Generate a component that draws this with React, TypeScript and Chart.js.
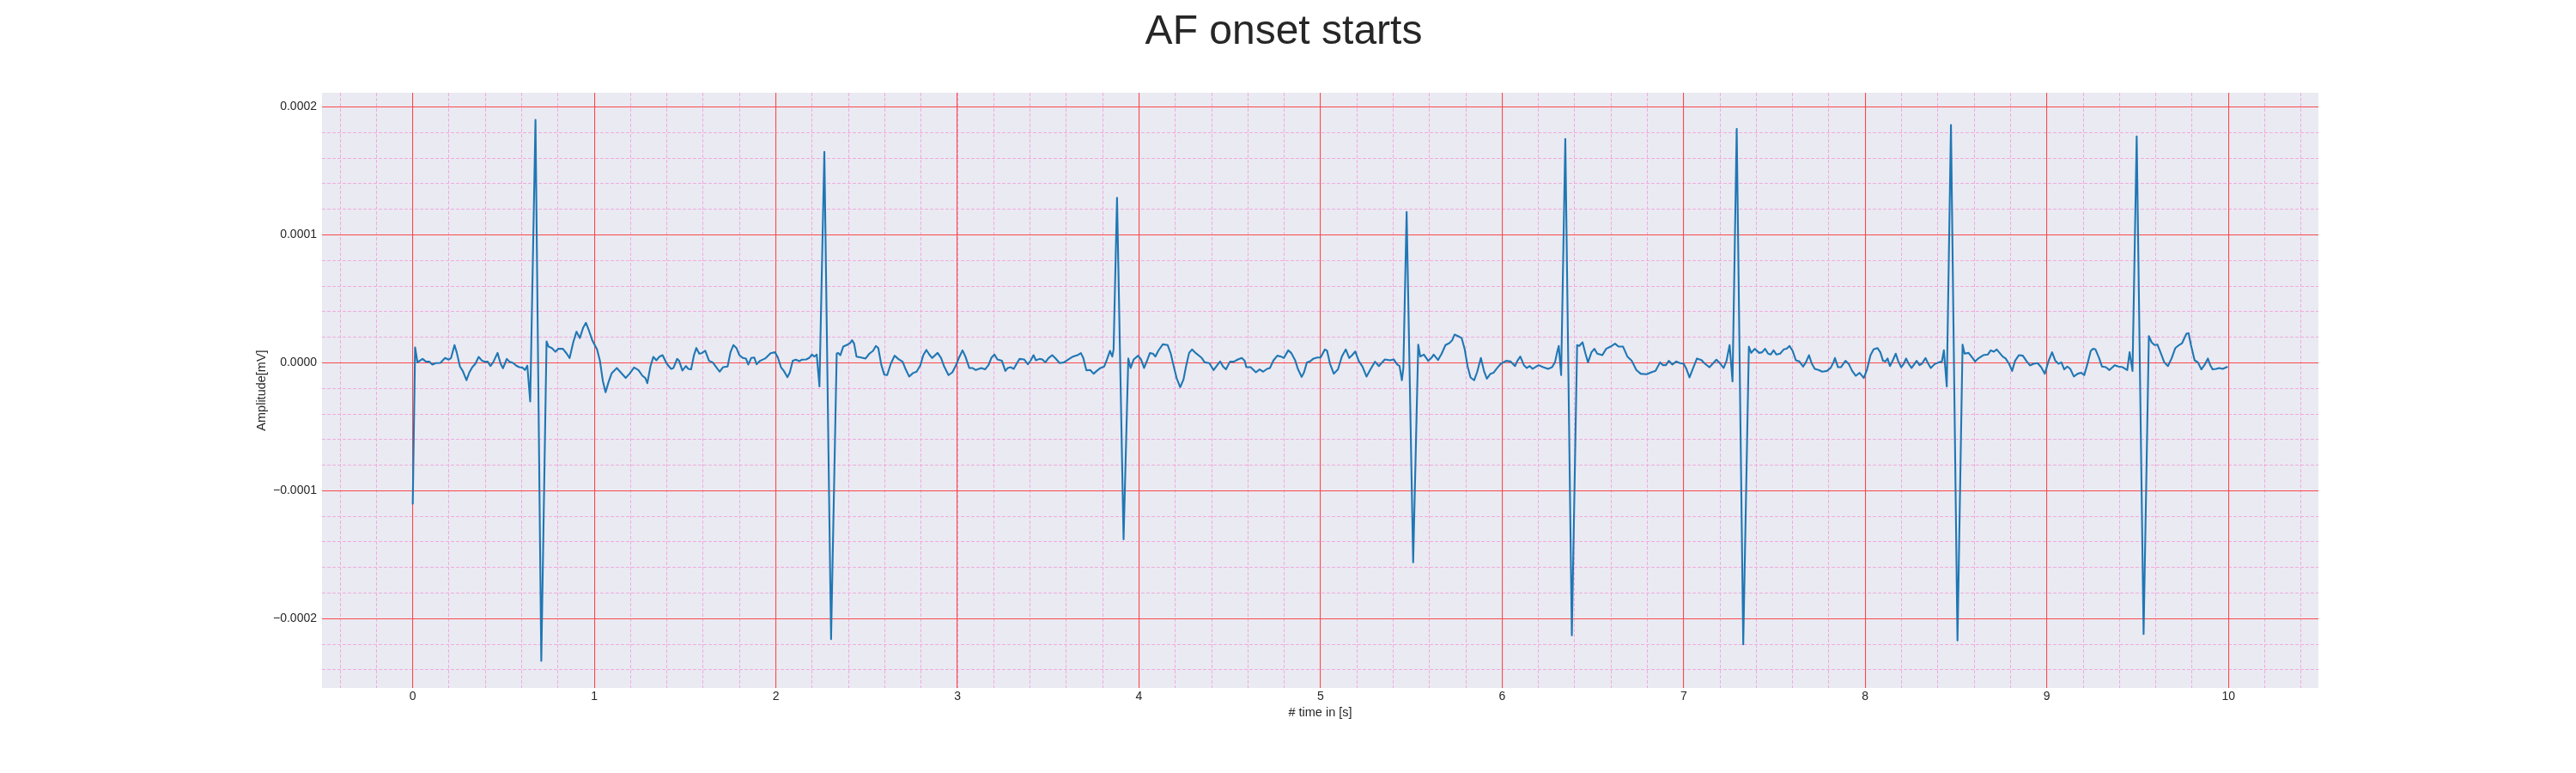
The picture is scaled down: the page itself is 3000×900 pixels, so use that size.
import React, { useEffect, useRef } from "react";
import { Chart, registerables } from "chart.js";

Chart.register(...registerables);

// ---- Data ----
const chartTitle = "AF onset starts";
const xAxisLabel = "# time in [s]";
const yAxisLabel = "Amplitude[mV]";

const xTickValues = [0, 1, 2, 3, 4, 5, 6, 7, 8, 9, 10];
const yTickValues = [-0.0002, -0.0001, 0, 0.0001, 0.0002];

const timeS = [
  0.000, 0.013, 0.026, 0.038, 0.054, 0.072, 0.092, 0.108, 0.127, 0.152,
  0.178, 0.198, 0.211, 0.230, 0.242, 0.260, 0.276, 0.296, 0.312, 0.328,
  0.345, 0.363, 0.382, 0.399, 0.413, 0.428, 0.443, 0.467, 0.484, 0.497,
  0.518, 0.533, 0.552, 0.570, 0.587, 0.603, 0.618, 0.631, 0.647, 0.676,
  0.708, 0.737, 0.748, 0.766, 0.786, 0.802, 0.827, 0.848, 0.864, 0.884,
  0.902, 0.920, 0.938, 0.954, 0.971, 0.990, 1.015, 1.031, 1.047, 1.062,
  1.078, 1.096, 1.124, 1.145, 1.173, 1.194, 1.219, 1.243, 1.265, 1.281,
  1.292, 1.309, 1.325, 1.342, 1.359, 1.376, 1.399, 1.423, 1.436, 1.456,
  1.467, 1.485, 1.505, 1.518, 1.533, 1.549, 1.562, 1.578, 1.592, 1.611,
  1.632, 1.652, 1.672, 1.690, 1.709, 1.734, 1.750, 1.766, 1.783, 1.799,
  1.819, 1.835, 1.848, 1.864, 1.881, 1.894, 1.913, 1.941, 1.971, 1.995,
  2.011, 2.028, 2.044, 2.064, 2.077, 2.093, 2.110, 2.129, 2.142, 2.167,
  2.183, 2.199, 2.212, 2.225, 2.240, 2.267, 2.304, 2.335, 2.343, 2.355,
  2.371, 2.390, 2.408, 2.420, 2.431, 2.444, 2.470, 2.494, 2.515, 2.535,
  2.551, 2.564, 2.581, 2.597, 2.613, 2.633, 2.654, 2.674, 2.698, 2.715,
  2.734, 2.755, 2.775, 2.796, 2.812, 2.829, 2.845, 2.861, 2.891, 2.910,
  2.927, 2.951, 2.972, 2.992, 3.008, 3.028, 3.044, 3.065, 3.082, 3.101,
  3.131, 3.152, 3.171, 3.188, 3.204, 3.220, 3.245, 3.264, 3.277, 3.294,
  3.310, 3.326, 3.342, 3.367, 3.388, 3.404, 3.419, 3.432, 3.452, 3.468,
  3.484, 3.502, 3.522, 3.538, 3.563, 3.587, 3.612, 3.636, 3.661, 3.680,
  3.693, 3.710, 3.731, 3.750, 3.767, 3.788, 3.808, 3.824, 3.840, 3.853,
  3.860, 3.879, 3.915, 3.941, 3.954, 3.971, 3.995, 4.011, 4.028, 4.044,
  4.060, 4.077, 4.090, 4.106, 4.131, 4.158, 4.175, 4.186, 4.207, 4.227,
  4.245, 4.259, 4.276, 4.292, 4.313, 4.343, 4.362, 4.387, 4.411, 4.431,
  4.447, 4.463, 4.479, 4.501, 4.522, 4.545, 4.566, 4.582, 4.591, 4.615,
  4.644, 4.664, 4.684, 4.705, 4.721, 4.741, 4.762, 4.783, 4.798, 4.822,
  4.838, 4.860, 4.876, 4.896, 4.909, 4.925, 4.941, 4.962, 4.982, 5.000,
  5.024, 5.036, 5.052, 5.073, 5.096, 5.117, 5.139, 5.158, 5.174, 5.191,
  5.210, 5.231, 5.253, 5.275, 5.300, 5.321, 5.354, 5.383, 5.403, 5.422,
  5.435, 5.448, 5.456, 5.474, 5.510, 5.538, 5.549, 5.569, 5.593, 5.610,
  5.623, 5.647, 5.667, 5.688, 5.709, 5.725, 5.738, 5.761, 5.777, 5.794,
  5.810, 5.826, 5.846, 5.862, 5.883, 5.900, 5.916, 5.936, 5.952, 5.973,
  5.993, 6.022, 6.046, 6.071, 6.084, 6.100, 6.120, 6.136, 6.152, 6.168,
  6.201, 6.226, 6.253, 6.275, 6.291, 6.303, 6.312, 6.325, 6.348, 6.384,
  6.413, 6.425, 6.443, 6.459, 6.473, 6.492, 6.508, 6.524, 6.552, 6.573,
  6.597, 6.622, 6.641, 6.666, 6.690, 6.714, 6.739, 6.763, 6.796, 6.821,
  6.845, 6.870, 6.886, 6.902, 6.918, 6.938, 6.959, 6.979, 7.000, 7.016,
  7.032, 7.049, 7.073, 7.098, 7.117, 7.142, 7.163, 7.180, 7.199, 7.220,
  7.236, 7.253, 7.269, 7.292, 7.328, 7.359, 7.372, 7.391, 7.416, 7.432,
  7.448, 7.465, 7.479, 7.495, 7.511, 7.531, 7.551, 7.567, 7.583, 7.600,
  7.618, 7.637, 7.658, 7.673, 7.690, 7.706, 7.722, 7.743, 7.763, 7.789,
  7.809, 7.825, 7.833, 7.850, 7.866, 7.891, 7.910, 7.928, 7.948, 7.969,
  7.992, 8.010, 8.029, 8.046, 8.067, 8.083, 8.098, 8.111, 8.123, 8.136,
  8.152, 8.168, 8.181, 8.198, 8.212, 8.225, 8.239, 8.255, 8.270, 8.283,
  8.299, 8.312, 8.332, 8.345, 8.361, 8.381, 8.405, 8.422, 8.433, 8.449,
  8.472, 8.508, 8.536, 8.547, 8.569, 8.585, 8.605, 8.626, 8.650, 8.675,
  8.691, 8.708, 8.724, 8.740, 8.757, 8.773, 8.792, 8.809, 8.825, 8.846,
  8.868, 8.887, 8.907, 8.928, 8.949, 8.969, 8.989, 9.010, 9.029, 9.047,
  9.064, 9.080, 9.096, 9.113, 9.129, 9.149, 9.170, 9.190, 9.206, 9.222,
  9.242, 9.255, 9.268, 9.288, 9.304, 9.325, 9.345, 9.374, 9.394, 9.418,
  9.443, 9.456, 9.472, 9.495, 9.533, 9.562, 9.577, 9.593, 9.609, 9.626,
  9.647, 9.667, 9.687, 9.708, 9.728, 9.745, 9.769, 9.781, 9.794, 9.814,
  9.832, 9.851, 9.868, 9.887, 9.900, 9.913, 9.933, 9.949, 9.969, 9.990,
  9.996,
];

const amplitudeMv = [
  -110.7e-6, 12.1e-6, 0.4e-6, 1.6e-6, 3.1e-6, 1.1e-6, 0.9e-6, -1.3e-6, -0.2e-6, 0.0e-6,
  3.8e-6, 2.5e-6, 3.8e-6, 13.9e-6, 8.3e-6, -2.9e-6, -6.5e-6, -13.6e-6, -7.4e-6, -3.4e-6,
  -0.7e-6, 4.7e-6, 1.6e-6, 0.9e-6, 0.9e-6, -2.5e-6, 0.4e-6, 7.8e-6, -0.7e-6, -4.2e-6,
  3.1e-6, 0.9e-6, 0.0e-6, -2.2e-6, -3.4e-6, -3.6e-6, -5.6e-6, -2.2e-6, -30.2e-6, 190e-6,
  -233e-6, 16.8e-6, 12.7e-6, 11.6e-6, 8.7e-6, 11.0e-6, 11.0e-6, 7.2e-6, 3.8e-6, 16.1e-6,
  24.4e-6, 19.4e-6, 27.3e-6, 31.3e-6, 25.0e-6, 17.2e-6, 10.5e-6, 1.6e-6, -14.1e-6, -23.0e-6,
  -15.2e-6, -8.0e-6, -4.0e-6, -7.4e-6, -11.8e-6, -8.5e-6, -3.6e-6, -5.6e-6, -10.1e-6, -11.8e-6,
  -15.9e-6, -2.9e-6, 4.7e-6, 2.0e-6, 4.9e-6, 6.0e-6, -0.7e-6, -4.7e-6, -4.0e-6, 3.1e-6,
  1.6e-6, -6.0e-6, -2.5e-6, -4.7e-6, -5.1e-6, 6.0e-6, 11.6e-6, 7.2e-6, 7.6e-6, 9.4e-6,
  1.6e-6, 0.4e-6, -3.4e-6, -6.9e-6, -3.4e-6, -2.9e-6, 8.3e-6, 13.9e-6, 11.6e-6, 6.0e-6,
  3.8e-6, 3.4e-6, -1.3e-6, 3.8e-6, 4.2e-6, -1.1e-6, 1.6e-6, 3.4e-6, 7.6e-6, 8.3e-6,
  4.2e-6, -3.4e-6, -6.3e-6, -11.2e-6, -7.4e-6, 1.6e-6, 2.5e-6, 1.3e-6, 2.5e-6, 2.7e-6,
  3.8e-6, 6.5e-6, 4.9e-6, 6.5e-6, -18.5e-6, 165e-6, -216e-6, 7.2e-6, 7.8e-6, 6.0e-6,
  12.7e-6, 13.9e-6, 15.4e-6, 17.7e-6, 15.0e-6, 4.9e-6, 4.2e-6, 3.4e-6, 7.2e-6, 9.4e-6,
  13.2e-6, 11.6e-6, -1.8e-6, -9.2e-6, -9.6e-6, -0.7e-6, 5.6e-6, 3.1e-6, 0.9e-6, -5.1e-6,
  -10.7e-6, -8.0e-6, -6.9e-6, -1.8e-6, 6.0e-6, 10.1e-6, 6.5e-6, 3.8e-6, 7.8e-6, 3.8e-6,
  -2.9e-6, -9.6e-6, -7.4e-6, -1.8e-6, 3.8e-6, 9.8e-6, 4.9e-6, -4.0e-6, -4.0e-6, -5.6e-6,
  -4.0e-6, -5.1e-6, -1.8e-6, 4.2e-6, 6.5e-6, 2.7e-6, 1.6e-6, -6.3e-6, -4.0e-6, -3.4e-6,
  -4.7e-6, -0.7e-6, 3.1e-6, 2.7e-6, -1.1e-6, 2.0e-6, 6.0e-6, 2.0e-6, 3.1e-6, 2.7e-6,
  0.4e-6, 3.8e-6, 6.0e-6, 3.8e-6, -0.2e-6, 0.4e-6, 2.7e-6, 4.9e-6, 6.0e-6, 7.6e-6,
  3.8e-6, -5.8e-6, -5.6e-6, -8.5e-6, -6.3e-6, -4.0e-6, -2.9e-6, 2.7e-6, 9.4e-6, 4.9e-6,
  10.5e-6, 129e-6, -138e-6, 3.4e-6, -4.0e-6, 2.7e-6, 5.6e-6, 2.7e-6, -4.0e-6, 1.6e-6,
  7.6e-6, 7.2e-6, 4.9e-6, 9.4e-6, 14.5e-6, 13.9e-6, 7.2e-6, 0.4e-6, -11.8e-6, -19.0e-6,
  -13.0e-6, -2.9e-6, 7.8e-6, 10.5e-6, 7.6e-6, 4.2e-6, 0.4e-6, -0.2e-6, -5.6e-6, -1.8e-6,
  1.1e-6, -2.9e-6, -5.1e-6, 0.9e-6, 0.9e-6, 2.7e-6, 3.8e-6, 1.6e-6, -3.4e-6, -3.4e-6,
  -7.4e-6, -5.1e-6, -6.9e-6, -4.7e-6, -4.0e-6, 2.0e-6, 5.6e-6, 4.9e-6, 3.8e-6, 9.8e-6,
  7.8e-6, 2.0e-6, -5.1e-6, -11.0e-6, -7.4e-6, 0.4e-6, 1.1e-6, 3.4e-6, 4.2e-6, 4.2e-6,
  10.5e-6, 9.4e-6, -0.7e-6, -8.5e-6, -5.1e-6, 4.9e-6, 10.5e-6, 3.8e-6, 6.0e-6, 8.9e-6,
  1.6e-6, -2.9e-6, -10.7e-6, -5.1e-6, 0.9e-6, -2.5e-6, 2.7e-6, 2.0e-6, 2.7e-6, -1.3e-6,
  -2.5e-6, -13.6e-6, -4.0e-6, 118e-6, -156e-6, 14.3e-6, 4.9e-6, 6.5e-6, 1.6e-6, 3.8e-6,
  6.5e-6, 2.2e-6, 7.2e-6, 13.9e-6, 15.4e-6, 17.7e-6, 22.1e-6, 20.6e-6, 19.4e-6, 10.5e-6,
  -2.9e-6, -11.4e-6, -13.6e-6, -7.4e-6, 3.8e-6, -6.3e-6, -12.3e-6, -8.5e-6, -7.8e-6, -4.0e-6,
  -0.7e-6, 1.6e-6, 1.1e-6, -2.5e-6, 1.6e-6, 4.9e-6, -1.8e-6, -4.0e-6, -2.5e-6, -4.7e-6,
  -1.8e-6, -3.4e-6, -4.7e-6, -3.4e-6, 0.4e-6, 8.3e-6, 13.2e-6, -9.6e-6, 175e-6, -213e-6,
  13.9e-6, 13.2e-6, 16.1e-6, 7.2e-6, 0.4e-6, 8.3e-6, 11.0e-6, 7.2e-6, 6.0e-6, 11.0e-6,
  12.7e-6, 15.0e-6, 12.7e-6, 12.7e-6, 4.9e-6, 1.6e-6, -5.6e-6, -8.5e-6, -8.9e-6, -7.4e-6,
  -6.3e-6, 0.4e-6, -1.8e-6, -1.8e-6, 1.6e-6, -1.3e-6, 1.1e-6, -0.2e-6, -0.7e-6, -5.1e-6,
  -11.4e-6, -5.1e-6, 3.4e-6, 2.2e-6, -0.7e-6, -3.4e-6, -0.2e-6, 2.5e-6, -0.2e-6, -4.0e-6,
  1.6e-6, 13.9e-6, -14.5e-6, 183e-6, -220e-6, 12.7e-6, 7.8e-6, 11.0e-6, 7.8e-6, 8.3e-6,
  11.0e-6, 7.2e-6, 6.5e-6, 9.8e-6, 6.5e-6, 7.2e-6, 10.5e-6, 11.0e-6, 13.2e-6, 9.4e-6,
  2.0e-6, 1.1e-6, -2.9e-6, 0.4e-6, 6.0e-6, -0.7e-6, -4.7e-6, -5.6e-6, -6.9e-6, -6.3e-6,
  -4.0e-6, 0.4e-6, 3.8e-6, -3.4e-6, -3.4e-6, 1.6e-6, -1.1e-6, -6.3e-6, -10.1e-6, -7.8e-6,
  -11.8e-6, -5.1e-6, 6.0e-6, 10.5e-6, 11.6e-6, 8.3e-6, 1.6e-6, 1.1e-6, 3.4e-6, -2.5e-6,
  2.0e-6, 7.2e-6, 1.6e-6, -3.4e-6, -0.7e-6, 3.4e-6, -0.7e-6, -4.0e-6, -1.1e-6, 1.6e-6,
  -1.8e-6, -0.7e-6, 3.8e-6, -0.2e-6, -4.0e-6, -1.1e-6, 0.4e-6, 0.9e-6, 9.8e-6, -18.5e-6,
  186e-6, -217e-6, 14.3e-6, 7.2e-6, 7.8e-6, 4.9e-6, 1.1e-6, 3.8e-6, 6.0e-6, 6.5e-6,
  9.8e-6, 8.7e-6, 10.5e-6, 7.8e-6, 4.9e-6, 3.4e-6, -0.7e-6, -6.3e-6, 1.6e-6, 6.0e-6,
  5.6e-6, 1.6e-6, -2.0e-6, -0.7e-6, -0.2e-6, -3.4e-6, -8.5e-6, 1.6e-6, 8.3e-6, 1.6e-6,
  -0.7e-6, 0.4e-6, -5.1e-6, -2.9e-6, -4.7e-6, -10.7e-6, -8.5e-6, -7.8e-6, -9.6e-6, -1.8e-6,
  9.4e-6, 11.0e-6, 10.5e-6, 3.8e-6, -2.9e-6, -3.4e-6, -5.6e-6, -1.8e-6, -2.9e-6, -3.4e-6,
  -5.6e-6, 8.3e-6, -6.3e-6, 177e-6, -212e-6, 21.0e-6, 16.1e-6, 13.9e-6, 14.3e-6, 8.3e-6,
  0.4e-6, -2.5e-6, 3.4e-6, 11.6e-6, 13.9e-6, 15.4e-6, 22.8e-6, 23.2e-6, 13.9e-6, 2.0e-6,
  0.4e-6, -5.1e-6, -1.8e-6, 3.4e-6, -1.8e-6, -5.1e-6, -4.7e-6, -4.0e-6, -4.7e-6, -3.4e-6,
  -2.9e-6,
];

// ---- Styling ----
const FONT = "'Liberation Sans', Arial, Helvetica, sans-serif";
const TEXT_COLOR = "#262626";
const PLOT_BG = "#EAEAF2";
const MAJOR_GRID = "rgb(250, 74, 76)";
const MINOR_GRID = "rgb(240, 172, 222)";
const LINE_COLOR = "#1f77b4";

const bgPlugin = {
  id: "plotBackground",
  beforeDraw(chart: any) {
    const { ctx, chartArea } = chart;
    if (!chartArea) return;
    ctx.save();
    ctx.fillStyle = PLOT_BG;
    ctx.fillRect(chartArea.left, chartArea.top, chartArea.right - chartArea.left, chartArea.bottom - chartArea.top);
    ctx.restore();
  },
};

function fmtY(v: number) {
  const s = Number(v).toFixed(4);
  if (s === "-0.0000") return "0.0000";
  return s.replace("-", "\u2212");
}

export default function App() {
  const canvasRef = useRef<HTMLCanvasElement | null>(null);

  useEffect(() => {
    const canvas = canvasRef.current;
    if (!canvas) return;

    const xMinData = Math.min(...timeS);
    const xMaxData = Math.max(...timeS);
    const yMinData = Math.min(...amplitudeMv);
    const yMaxData = Math.max(...amplitudeMv);
    const xPad = (xMaxData - xMinData) * 0.05;
    const yPad = (yMaxData - yMinData) * 0.05;
    const xMin = xMinData - xPad;
    const xMax = xMaxData + xPad;
    const yMin = yMinData - yPad;
    const yMax = yMaxData + yPad;

    const points = timeS.map((t, i) => ({ x: t, y: amplitudeMv[i] }));

    const chart = new Chart(canvas, {
      type: "line",
      data: {
        datasets: [
          {
            data: points,
            borderColor: LINE_COLOR,
            borderWidth: 2.1,
            pointRadius: 0,
            tension: 0,
            fill: false,
            borderJoinStyle: "round",
            borderCapStyle: "butt",
            xAxisID: "x",
            yAxisID: "y",
          },
        ],
      },
      options: {
        animation: false,
        responsive: false,
        devicePixelRatio: 1,
        parsing: false,
        layout: { padding: { left: 290, right: 300, top: 0, bottom: 61.6 } },
        plugins: {
          legend: { display: false },
          tooltip: { enabled: false },
          title: {
            display: true,
            text: chartTitle,
            color: TEXT_COLOR,
            font: { family: FONT, size: 48, weight: "normal", lineHeight: 1.2 },
            padding: { top: 8.6, bottom: 41.8 },
          },
        },
        scales: {
          xMinor: {
            type: "linear",
            position: "top",
            min: xMin,
            max: xMax,
            ticks: { display: false, stepSize: 0.2, includeBounds: false },
            grid: { color: MINOR_GRID, lineWidth: 1, drawTicks: false, z: -2, borderDash: [4, 2] } as any,
            border: { display: false, dash: [4, 2] },
            afterFit: (s: any) => { s.height = 0; },
          },
          yMinor: {
            type: "linear",
            position: "right",
            min: yMin,
            max: yMax,
            ticks: { display: false, stepSize: 0.00002, includeBounds: false },
            grid: { color: MINOR_GRID, lineWidth: 1, drawTicks: false, z: -2, borderDash: [4, 2] } as any,
            border: { display: false, dash: [4, 2] },
            afterFit: (s: any) => { s.width = 0; },
          },
          x: {
            type: "linear",
            position: "bottom",
            min: xMin,
            max: xMax,
            afterBuildTicks: (s: any) => { s.ticks = xTickValues.map((v) => ({ value: v })); },
            ticks: {
              autoSkip: false,
              maxRotation: 0,
              padding: 2,
              color: TEXT_COLOR,
              font: { family: FONT, size: 14 },
              callback: (v: any) => String(v),
            },
            grid: { color: MAJOR_GRID, lineWidth: 1.1, drawTicks: false, z: -1 },
            border: { display: false },
            title: {
              display: true,
              text: xAxisLabel,
              color: TEXT_COLOR,
              font: { family: FONT, size: 14.5, lineHeight: 1.2 },
              padding: { top: 0, bottom: 0 },
            },
            afterFit: (s: any) => { s.height = 37.4; },
          },
          y: {
            type: "linear",
            position: "left",
            min: yMin,
            max: yMax,
            afterBuildTicks: (s: any) => { s.ticks = yTickValues.map((v) => ({ value: v })); },
            ticks: {
              autoSkip: false,
              padding: 6,
              color: TEXT_COLOR,
              font: { family: FONT, size: 14 },
              callback: (v: any) => fmtY(v),
            },
            grid: { color: MAJOR_GRID, lineWidth: 1.1, drawTicks: false, z: -1 },
            border: { display: false },
            title: {
              display: true,
              text: yAxisLabel,
              color: TEXT_COLOR,
              font: { family: FONT, size: 14.5, lineHeight: 1.2 },
              padding: { top: 6.3, bottom: 0 },
            },
            afterFit: (s: any) => { s.width = 85; },
          },
        },
      } as any,
      plugins: [bgPlugin],
    });

    return () => {
      chart.destroy();
    };
  }, []);

  return (
    <div style={{ position: "absolute", left: 0, top: 0, width: 3000, height: 900, background: "#ffffff" }}>
      <canvas ref={canvasRef} width={3000} height={900} style={{ width: 3000, height: 900, display: "block" }} />
    </div>
  );
}
